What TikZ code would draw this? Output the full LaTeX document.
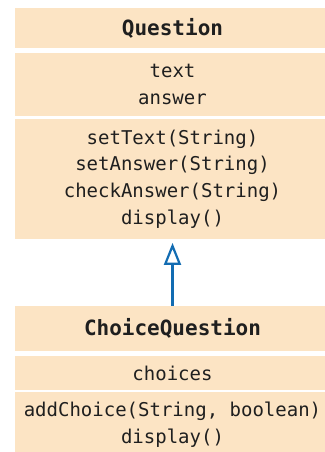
\documentclass[tikz,border=0pt]{standalone}
\usepackage{fontspec}
\setmonofont{DejaVu Sans Mono}
\usetikzlibrary{arrows.meta}
\definecolor{peach}{RGB}{252,228,196}
\definecolor{umlblue}{RGB}{18,108,178}
\tikzset{
  comp/.style={fill=peach, draw=none, minimum width=316pt, inner sep=0pt, align=center,
    font=\ttfamily\fontsize{19}{26.7}\selectfont, text=black!88},
  head/.style={comp, font=\ttfamily\bfseries\fontsize{21}{26.7}\selectfont},
  inherit/.style={draw=umlblue, line width=2.2pt, -{Triangle[open, width=17pt, length=22pt, line width=2.2pt]}}
}
\begin{document}
\begin{tikzpicture}[x=1pt,y=-1pt]
\useasboundingbox (0,0) rectangle (324,452);
\node[head, minimum height=40.3pt] (qh) at (172.5,28.2) {Question};
\node[comp, minimum height=62.7pt] (qa) at (172.5,84.7) {text\\answer};
\node[comp, minimum height=120.6pt] (qm) at (172.5,179) {setText(String)\\setAnswer(String)\\checkAnswer(String)\\display()};
\node[head, minimum height=44.7pt] (ch) at (172.5,328.3) {ChoiceQuestion};
\node[comp, minimum height=34pt] (ca) at (172.5,373) {choices};
\node[comp, minimum height=65.4pt] (cm) at (172.5,425) {addChoice(String, boolean)\\display()};
\draw[inherit] (ch.north) -- ([yshift=-3.4pt]qm.south);
\end{tikzpicture}
\end{document}
